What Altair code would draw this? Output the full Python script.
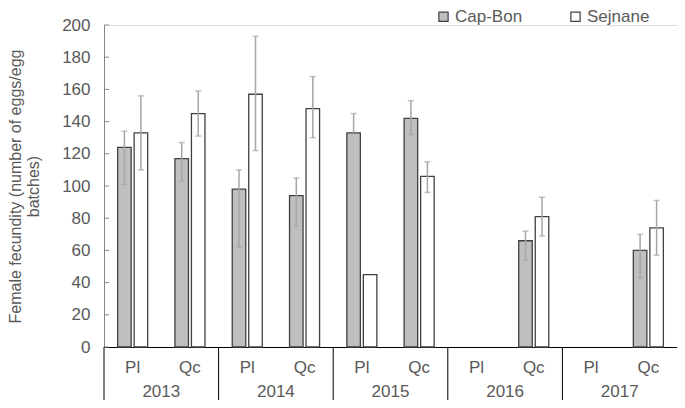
import altair as alt
import pandas as pd

# ---- data ----
years = ["2013", "2013", "2014", "2014", "2015", "2015", "2016", "2017"]
species = ["Pl", "Qc", "Pl", "Qc", "Pl", "Qc", "Qc", "Qc"]
capbon = [124, 117, 98, 94, 133, 142, 66, 60]
capbon_hi = [134, 127, 110, 105, 145, 153, 72, 70]
capbon_lo = [101, 103, 62, 75, 133, 132, 54, 43]
sejnane = [133, 145, 157, 148, 45, 106, 81, 74]
sejnane_hi = [156, 159, 193, 168, 45, 115, 93, 91]
sejnane_lo = [110, 131, 122, 130, 45, 96, 69, 57]

all_years = ["2013", "2014", "2015", "2016", "2017"]
all_species = ["Pl", "Qc"]
sites = ["Cap-Bon", "Sejnane"]
y_ticks = list(range(0, 201, 20))
y_title = ["Female fecundity (number of eggs/egg", "batches)"]

cats = [f"{y}|{s}" for y in all_years for s in all_species]

rows = []
for i in range(len(years)):
    cat = f"{years[i]}|{species[i]}"
    rows.append(dict(cat=cat, site="Cap-Bon", value=capbon[i], lo=capbon_lo[i], hi=capbon_hi[i]))
    rows.append(dict(cat=cat, site="Sejnane", value=sejnane[i], lo=sejnane_lo[i], hi=sejnane_hi[i]))
df = pd.DataFrame(rows)
df_err = df[df.hi > df.lo]
df_lo = df[df.lo < df.value]
year_df = pd.DataFrame(dict(cat=[f"{y}|Pl" for y in all_years], year=all_years))
tick_df = pd.DataFrame(dict(t=y_ticks))

FONT = "Liberation Sans"
FS = 17
TXT = "#595959"
DARK = "#404040"
ERR = "#a6a6a6"

xscale = alt.Scale(domain=cats, paddingInner=0, paddingOuter=0)
xaxis = alt.Axis(labelExpr="split(datum.value, '|')[1]", labelAngle=0,
                 ticks=False, labelPadding=12, labelFontSize=FS,
                 labelColor=TXT, labelFont=FONT, domainColor="#000000",
                 domainWidth=1, labelOverlap=False, labelBaseline="top")
xoff = alt.XOffset("site:N", scale=alt.Scale(domain=sites, paddingInner=0.18, paddingOuter=0.826))
yscale = alt.Scale(domain=[0, 200], nice=False)
yaxis = alt.Axis(values=y_ticks, ticks=False, grid=False, labelPadding=14,
                 labelFontSize=FS, labelColor=TXT, labelFont=FONT, labelOverlap=False,
                 domainColor="#868686", titleFontSize=FS - 1, titleColor=TXT,
                 titleFont=FONT, titleFontWeight="normal", titlePadding=20)


def X(**kw):
    return alt.X("cat:N", scale=xscale, title=None, axis=xaxis, **kw)


bars = alt.Chart(df).mark_bar(stroke=DARK, strokeWidth=1.3).encode(
    x=X(),
    xOffset=xoff,
    y=alt.Y("value:Q", scale=yscale, title=y_title, axis=yaxis),
    fill=alt.Fill("site:N", scale=alt.Scale(domain=sites, range=["#bfbfbf", "#ffffff"]),
                  legend=alt.Legend(orient="none", legendX=331, legendY=-17,
                                    direction="horizontal", title=None,
                                    symbolType="square", symbolSize=85,
                                    symbolStrokeColor=DARK, symbolStrokeWidth=1.2,
                                    labelFontSize=FS, labelColor=TXT, labelFont=FONT,
                                    columnPadding=44, labelOffset=3, padding=0)),
)

err_line = alt.Chart(df_err).mark_rule(color=ERR, strokeWidth=1.5).encode(
    x=X(), xOffset=xoff,
    y=alt.Y("lo:Q", scale=yscale, title=y_title, axis=yaxis), y2="hi:Q")
err_hi = alt.Chart(df_err).mark_tick(color=ERR, thickness=1.5, size=6).encode(
    x=X(), xOffset=xoff,
    y=alt.Y("hi:Q", scale=yscale, title=y_title, axis=yaxis))
err_lo = alt.Chart(df_lo).mark_tick(color=ERR, thickness=1.5, size=6).encode(
    x=X(), xOffset=xoff,
    y=alt.Y("lo:Q", scale=yscale, title=y_title, axis=yaxis))

yticks = alt.Chart(tick_df).mark_rule(color="#868686", strokeWidth=1).encode(
    y=alt.Y("t:Q", scale=yscale, title=y_title, axis=yaxis), x=alt.value(0), x2=alt.value(5))

seps = alt.Chart(year_df).mark_rule(color="#000000", strokeWidth=1).encode(
    x=X(bandPosition=0),
    y=alt.value(322), y2=alt.value(375))

year_text = alt.Chart(year_df).mark_text(fontSize=FS, color=TXT, font=FONT,
                                         baseline="middle").encode(
    x=X(bandPosition=1),
    y=alt.value(367), text="year:N")

chart = alt.layer(bars, err_line, err_hi, err_lo, yticks, seps, year_text).properties(
    width=573, height=322,
    autosize=alt.AutoSizeParams(type="none"),
    padding={"left": 96, "top": 17, "right": 0, "bottom": 53},
).configure_view(stroke=None).configure(background="white")

chart.save("out.html", embed_options={"renderer": "svg", "actions": False})
